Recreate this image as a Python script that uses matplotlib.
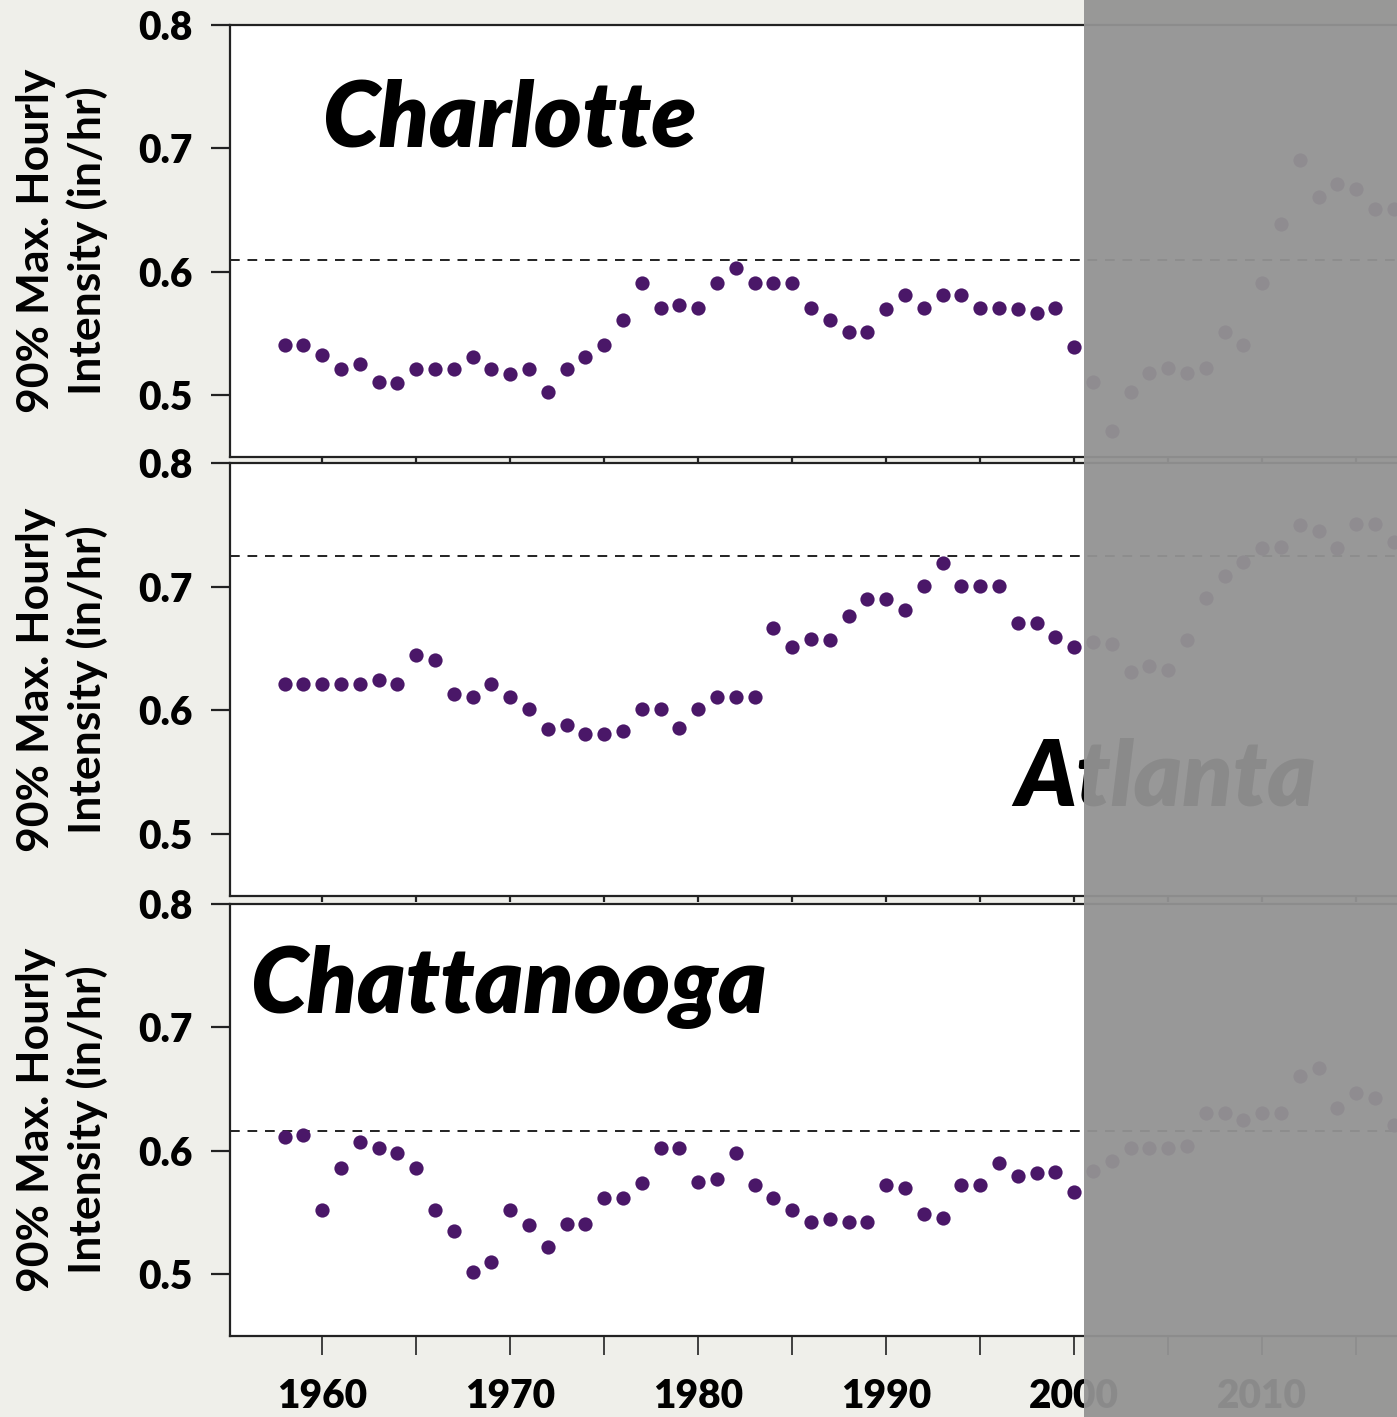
import matplotlib
matplotlib.use('Agg')
import matplotlib.pyplot as plt
from matplotlib.ticker import MultipleLocator, FuncFormatter
from matplotlib.patches import Rectangle

plt.rcParams['font.family'] = ['Lato', 'DejaVu Sans']

# data
years = list(range(1958, 2018))
charlotte = [0.541, 0.541, 0.533, 0.521, 0.525, 0.511, 0.510, 0.521, 0.521, 0.521,
             0.531, 0.521, 0.517, 0.521, 0.503, 0.521, 0.531, 0.541, 0.561, 0.591,
             0.571, 0.573, 0.571, 0.591, 0.603, 0.591, 0.591, 0.591, 0.571, 0.561,
             0.551, 0.551, 0.570, 0.581, 0.571, 0.581, 0.581, 0.571, 0.571, 0.570,
             0.567, 0.571, 0.539, 0.511, 0.471, 0.503, 0.518, 0.522, 0.518, 0.522,
             0.551, 0.541, 0.591, 0.639, 0.691, 0.661, 0.671, 0.667, 0.651, 0.651]
atlanta = [0.621, 0.621, 0.621, 0.621, 0.621, 0.6245, 0.621, 0.645, 0.641, 0.613,
           0.611, 0.621, 0.611, 0.601, 0.585, 0.588, 0.581, 0.581, 0.583, 0.601,
           0.601, 0.5855, 0.601, 0.611, 0.611, 0.611, 0.667, 0.651, 0.6575, 0.657,
           0.676, 0.690, 0.690, 0.681, 0.7005, 0.719, 0.7005, 0.7005, 0.7005, 0.671,
           0.671, 0.659, 0.651, 0.655, 0.654, 0.631, 0.636, 0.633, 0.657, 0.691,
           0.709, 0.720, 0.731, 0.732, 0.750, 0.745, 0.731, 0.751, 0.751, 0.736]
chattanooga = [0.611, 0.613, 0.552, 0.586, 0.607, 0.602, 0.598, 0.586, 0.552, 0.535,
               0.502, 0.510, 0.552, 0.540, 0.522, 0.541, 0.541, 0.562, 0.562, 0.574,
               0.602, 0.602, 0.575, 0.577, 0.598, 0.572, 0.562, 0.552, 0.542, 0.545,
               0.542, 0.542, 0.572, 0.570, 0.549, 0.546, 0.572, 0.572, 0.590, 0.580,
               0.582, 0.583, 0.567, 0.584, 0.592, 0.602, 0.602, 0.602, 0.604, 0.631,
               0.631, 0.625, 0.631, 0.631, 0.661, 0.667, 0.635, 0.647, 0.643, 0.621]
cities = ['Charlotte', 'Atlanta', 'Chattanooga']
series = [charlotte, atlanta, chattanooga]
thresholds = [0.61, 0.725, 0.616]
y_ticks = [0.5, 0.6, 0.7, 0.8]

W, H = 1397, 1417
fig = plt.figure(figsize=(W / 100, H / 100), dpi=100, facecolor='#efefea')

# panel extents in pixels (top, bottom)
panels = [(25, 457), (463, 896), (904, 1336)]
left_px, right_px = 230, 1422
# city label anchors (axes coords)
label_pos = [(0.077, 0.718), (0.6586, 0.21), (0.0168, 0.748)]

purple = '#4a1768'

for i, (vals, city) in enumerate(zip(series, cities)):
    top, bot = panels[i]
    ax = fig.add_axes([left_px / W, 1 - bot / H, (right_px - left_px) / W, (bot - top) / H])
    ax.set_facecolor('white')
    ax.scatter(years, vals, s=105, color=purple, zorder=3, linewidths=0)
    ax.axhline(thresholds[i], color='#222222', lw=1.4, dashes=(5, 4), zorder=2)
    ax.set_xlim(1955.1, 2018.5)
    ax.set_ylim(0.45, 0.8)
    ax.set_yticks(y_ticks)
    ax.yaxis.set_major_formatter(FuncFormatter(lambda v, p: '%.1f' % v))
    ax.xaxis.set_major_locator(MultipleLocator(10))
    ax.xaxis.set_minor_locator(MultipleLocator(5))
    for s in ax.spines.values():
        s.set_linewidth(1.6)
        s.set_color('#222222')
    ax.tick_params(axis='y', direction='out', length=14, width=1.6, pad=13,
                   labelsize=28, color='#222222')
    for lab in ax.get_yticklabels():
        lab.set_fontweight('heavy')
    if i < 2:
        ax.tick_params(axis='x', which='both', direction='out', length=4, width=1.6,
                       labelbottom=False, color='#222222')
    else:
        ax.tick_params(axis='x', which='both', direction='out', length=14, width=1.2,
                       pad=16, labelsize=28, color='#222222')
        for lab in ax.get_xticklabels():
            lab.set_fontweight('heavy')
    ax.text(-0.141, 0.5, '90% Max. Hourly\nIntensity (in/hr)', transform=ax.transAxes,
            rotation=90, ha='center', va='center', multialignment='center',
            fontsize=32, fontweight='bold', linespacing=1.3)
    lx, ly = label_pos[i]
    ax.text(lx, ly, city, transform=ax.transAxes, ha='left', va='baseline',
            fontsize=66, fontweight='heavy', style='italic', zorder=4)

# grey overlay over the right side
fig.patches.append(Rectangle((1084 / W, 0), 1 - 1084 / W, 1, transform=fig.transFigure,
                             facecolor='#939393', alpha=0.95, edgecolor='none', zorder=10))

fig.savefig('out.png', dpi=100, facecolor=fig.get_facecolor())
